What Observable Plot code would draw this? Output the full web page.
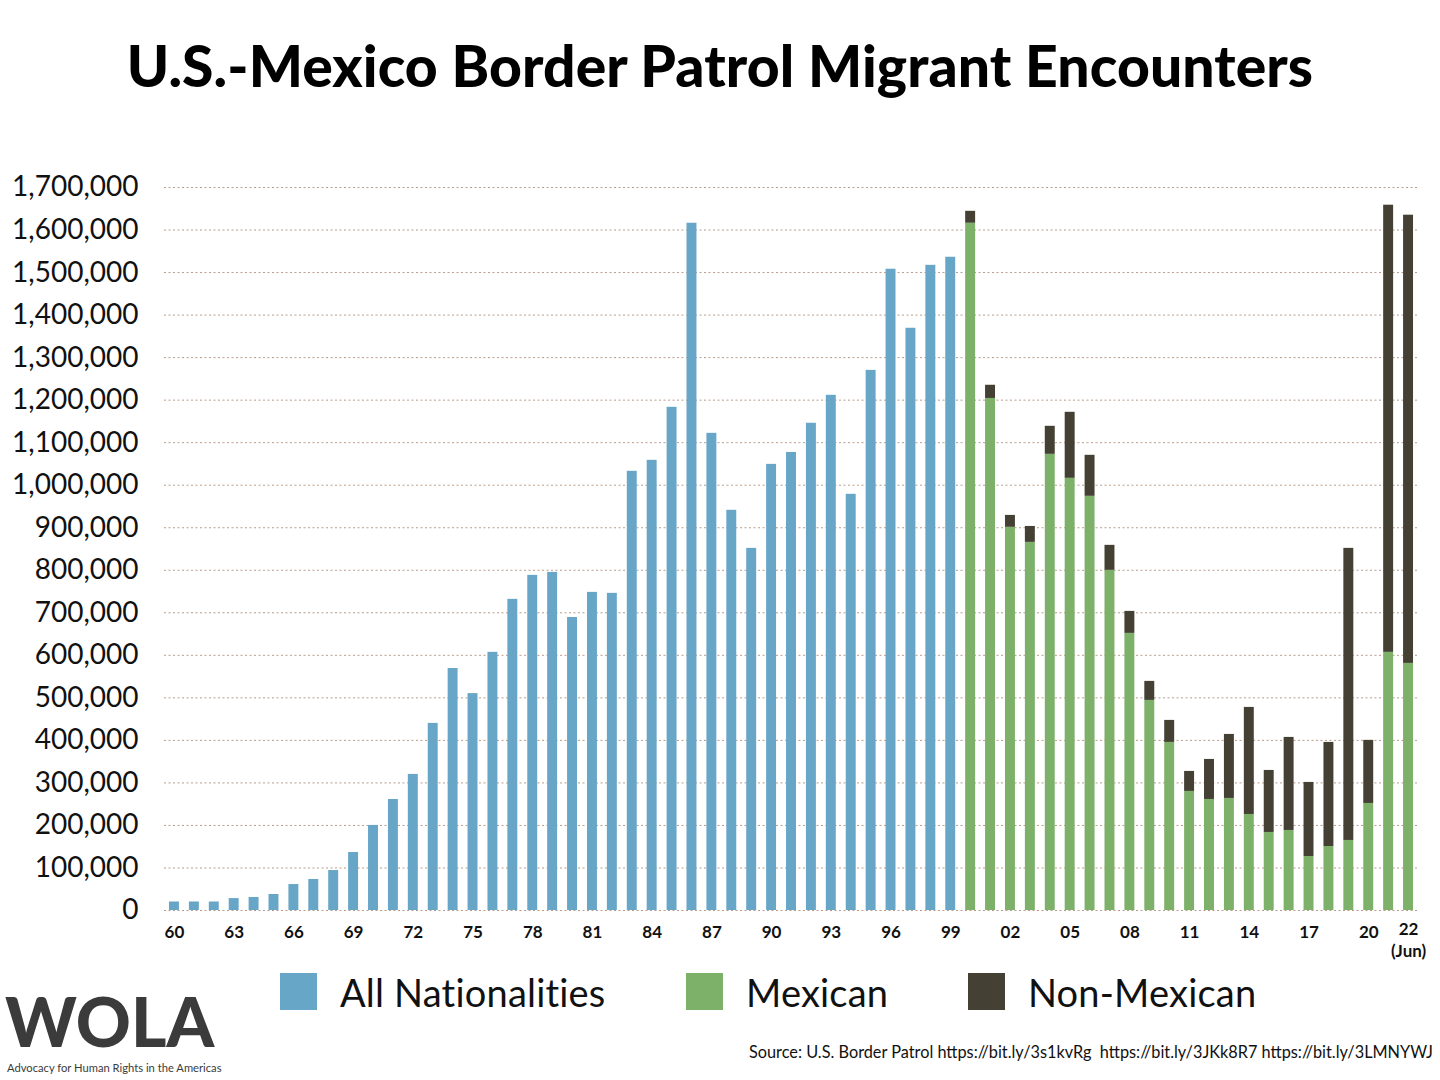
<!DOCTYPE html>
<html>
<head>
<meta charset="utf-8">
<script src="https://cdn.jsdelivr.net/npm/d3@7"></script>
<script src="https://cdn.jsdelivr.net/npm/@observablehq/plot@0.6"></script>
<style>
  html, body { margin: 0; padding: 0; background: #fff; }
  #wrap { position: relative; width: 1440px; height: 1080px; overflow: hidden; background: #fff; font-family: Lato, "Noto Sans", sans-serif; color: #111; }
  #title { position: absolute; left: 0; top: 37px; width: 1440px; text-align: center; font-size: 57px; line-height: 1; font-weight: 900; color: #000; letter-spacing: 0.1px; }
  #chart { position: absolute; left: 0; top: 160px; }
  .leg { position: absolute; top: 973px; height: 37px; display: flex; align-items: center; }
  .sw { width: 37px; height: 37px; display: inline-block; }
  .lt { font-size: 38px; margin-left: 23px; color: #111; white-space: nowrap; letter-spacing: 0.2px; }
  #source { position: absolute; right: 7px; top: 1042px; font-size: 16.3px; color: #111; white-space: nowrap; }
  #logo { position: absolute; left: 5px; top: 987px; font-size: 68px; font-weight: 900; color: #3b3b3b; line-height: 1; letter-spacing: 0px; }
  #tag { position: absolute; left: 7px; top: 1062px; font-size: 11.2px; line-height: 1; color: #3b3b3b; white-space: nowrap; }
</style>
</head>
<body>
<div id="wrap">
  <div id="title">U.S.-Mexico Border Patrol Migrant Encounters</div>
  <div id="chart"></div>
  <div class="leg" style="left:280px"><span class="sw" style="background:#68a6c8"></span><span class="lt">All Nationalities</span></div>
  <div class="leg" style="left:686px"><span class="sw" style="background:#7db069"></span><span class="lt">Mexican</span></div>
  <div class="leg" style="left:968px"><span class="sw" style="background:#444034"></span><span class="lt">Non-Mexican</span></div>
  <div id="logo">WOLA</div>
  <div id="tag">Advocacy for Human Rights in the Americas</div>
  <div id="source">Source: U.S. Border Patrol https://bit.ly/3s1kvRg&nbsp; https://bit.ly/3JKk8R7 https://bit.ly/3LMNYWJ</div>
</div>
<script>
// Categories
const years = d3.range(1960, 2023);
const groups = ["All Nationalities", "Mexican", "Non-Mexican"];
const colors = ["#68a6c8", "#7db069", "#444034"];

// 1960–1999: all nationalities
const allNationalities = [
  20000, 20000, 20000, 28000, 30600, 37600, 61000, 73000, 94000, 136400,
  200000, 261000, 320000, 440000, 569000, 510000, 607000, 731600, 788000, 795000,
  689000, 748000, 745700, 1032700, 1058500, 1183200, 1616000, 1122000, 941000, 851500,
  1049000, 1077000, 1145600, 1211400, 978600, 1270000, 1507800, 1369000, 1517000, 1536000
];
// 2000–2022: Mexican / Non-Mexican
const mexican = [
  1616000, 1204000, 901000, 865600, 1072600, 1016200, 973900, 799800, 651600, 494000,
  395200, 280000, 261100, 263500, 225800, 183500, 188200, 127000, 150500, 164700,
  251700, 607000, 581000
];
const nonMexican = [
  28000, 31000, 28000, 37400, 65900, 155200, 96400, 58800, 51700, 44700,
  51800, 47000, 94100, 150500, 251700, 145800, 218800, 174100, 244700, 686800,
  148300, 1051400, 1053900
];

// Tick labels
const yTicks = [0,100000,200000,300000,400000,500000,600000,700000,800000,900000,1000000,1100000,1200000,1300000,1400000,1500000,1600000,1700000];
const xTickYears = [1960,1963,1966,1969,1972,1975,1978,1981,1984,1987,1990,1993,1996,1999,2002,2005,2008,2011,2014,2017,2020];
const xTickLabels = ["60","63","66","69","72","75","78","81","84","87","90","93","96","99","02","05","08","11","14","17","20"];
const lastYear = [2022];
const lastLabel = ["22\n(Jun)"];

const rows = [];
allNationalities.forEach((v, i) => rows.push({year: 1960 + i, group: groups[0], value: v}));
mexican.forEach((v, i) => rows.push({year: 2000 + i, group: groups[1], value: v}));
nonMexican.forEach((v, i) => rows.push({year: 2000 + i, group: groups[2], value: v}));

const chart = Plot.plot({
  width: 1440,
  height: 810,
  marginTop: 27,
  marginBottom: 60,
  marginLeft: 164,
  marginRight: 22,
  style: {fontFamily: "Lato, 'Noto Sans', sans-serif", background: "#fff", overflow: "visible"},
  x: {type: "band", domain: years, paddingInner: 0.5, paddingOuter: 0.25, axis: null},
  y: {domain: [0, 1700000], axis: null},
  color: {domain: groups, range: colors},
  marks: [
    Plot.gridY(yTicks, {stroke: "#b89c8a", strokeOpacity: 1, strokeWidth: 1, strokeDasharray: "2,2.5"}),
    Plot.barY(rows, {x: "year", y: "value", fill: "group"}),
    Plot.axisY(yTicks, {tickSize: 0, tickPadding: 26, tickFormat: d3.format(","), fontSize: 28, fill: "#111", label: null}),
    Plot.text(xTickYears, {x: d => d, text: (d, i) => xTickLabels[i], frameAnchor: "bottom", dy: 27, fontSize: 17, fontWeight: "bold", fill: "#111"}),
    Plot.text(lastYear, {x: d => d, text: (d, i) => lastLabel[i], frameAnchor: "bottom", lineAnchor: "top", dy: 9, lineHeight: 1.3, fontSize: 17, fontWeight: "bold", fill: "#111"})
  ]
});
document.getElementById("chart").appendChild(chart);
</script>
</body>
</html>
